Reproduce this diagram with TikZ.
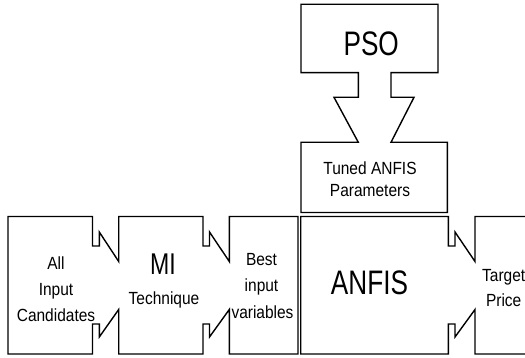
\documentclass[tikz,border=0pt]{standalone}
\usepackage{fontspec}
\newfontfamily\bigsans[FakeStretch=0.77]{Liberation Sans}
\newfontfamily\smallsans[FakeStretch=0.88]{Liberation Sans}
\tikzset{
  outline/.style={draw=black, line width=1.4pt, line join=miter},
  bigtxt/.style={inner sep=0pt, anchor=base, font=\bigsans\fontsize{34}{34}\selectfont},
  midtxt/.style={inner sep=0pt, anchor=base, font=\bigsans\fontsize{30}{30}\selectfont},
  smalltxt/.style={inner sep=0pt, anchor=base, font=\smallsans\fontsize{17.6}{20}\selectfont},
}
\begin{document}
\begin{tikzpicture}[x=1pt, y=-1pt]
  \useasboundingbox (0,0) rectangle (525,358);
  \clip (0,0) rectangle (525,358);

  % input candidates -> MI technique -> best input variables
  \draw[outline] (8,354) -- (8,216.5) -- (92.5,216.5) -- (92.5,246) -- (99.3,246) -- (99.3,232)
    -- (118.7,261.5) -- (118.7,216.5) -- (203,216.5) -- (203,246) -- (209.5,246) -- (209.5,232)
    -- (229.3,261.5) -- (229.3,216.5) -- (298,216.5) -- (298,354) -- (229.3,354) -- (229.3,309.5)
    -- (209.5,337) -- (209.5,324) -- (203,324) -- (203,354) -- (118.7,354) -- (118.7,309.5)
    -- (99.3,337) -- (99.3,324) -- (92.5,324) -- (92.5,354) -- cycle;

  % ANFIS -> target price
  \draw[outline] (532,216.5) -- (475,216.5) -- (475,261.5) -- (455,232) -- (455,246) -- (448.3,246)
    -- (448.3,216.5) -- (300.7,216.5) -- (300.7,354) -- (448.3,354) -- (448.3,324) -- (455,324)
    -- (455,337) -- (475,309.5) -- (475,354) -- (532,354);

  % PSO -> tuned ANFIS parameters
  \draw[outline] (301,4.3) -- (438,4.3) -- (438,72.7) -- (391,72.7) -- (391,97.3) -- (414,97.3)
    -- (391,142.3) -- (447.3,142.3) -- (447.3,212.5) -- (301,212.5) -- (301,142.3) -- (358.3,142.3)
    -- (334,97.3) -- (358.3,97.3) -- (358.3,72.7) -- (301,72.7) -- cycle;

  % labels
  \node[smalltxt] (all)  at (56,269.3) {All};
  \node[smalltxt] (inp)  at (56,295)   {Input};
  \node[smalltxt] (cand) at (56,321)   {Candidates};

  \node[midtxt]   (mi)   at (163,274.8) {MI};
  \node[smalltxt] (tech) at (164,305)   {Technique};

  \node[smalltxt] (best) at (261.5,265.7) {Best};
  \node[smalltxt] (binp) at (261.5,291.7) {input};
  \node[smalltxt] (bvar) at (262.5,318)   {variables};

  \node[bigtxt]   (anfis) at (369.5,294.3) {ANFIS};
  \node[smalltxt] (tgt)   at (503.7,281)   {Target};
  \node[smalltxt] (price) at (503.7,306.7) {Price};

  \node[bigtxt]   (pso)   at (371.2,56)    {PSO};
  \node[smalltxt] (tuned) at (370,175)     {Tuned ANFIS};
  \node[smalltxt] (param) at (370,196.7)   {Parameters};
\end{tikzpicture}
\end{document}
